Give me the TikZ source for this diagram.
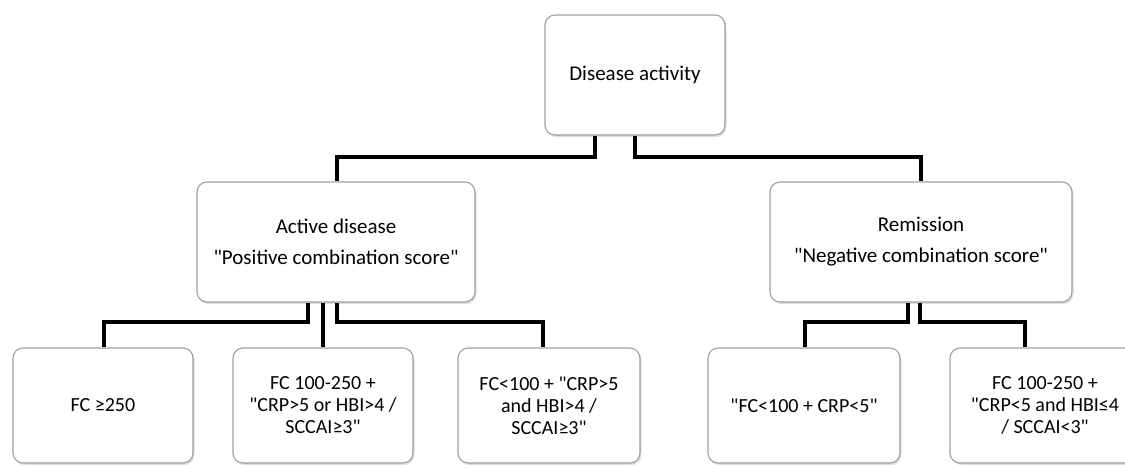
\documentclass[tikz,border=0pt]{standalone}
\usepackage{fontspec}
\setmainfont{Carlito}[Ligatures=TeXOff]
\usetikzlibrary{shadows}
\begin{document}
\begin{tikzpicture}[x=1pt,y=-1pt,
  box/.style={draw=gray!75, line width=1.1pt, rounded corners=10pt, fill=white,
    drop shadow={shadow xshift=1.5pt, shadow yshift=-2pt, opacity=0.25, fill=gray},
    align=center, inner sep=2pt, font=\fontsize{20}{22}\selectfont},
  midbox/.style={box, font=\fontsize{21}{31}\selectfont},
  conn/.style={line width=4pt, line cap=butt, line join=miter}]
\useasboundingbox (0,0) rectangle (1125,467);
\clip (0,0) rectangle (1125,467);
\node[midbox, minimum width=180pt, minimum height=120pt] (top) at (635,75) {Disease activity};
\node[midbox, minimum width=278pt, minimum height=120pt] (act) at (336,242) {Active disease\\"Positive combination score"};
\node[midbox, minimum width=302pt, minimum height=120pt] (rem) at (921,242) {Remission\\"Negative combination score"};
\node[box, minimum width=180pt, minimum height=115pt] (b1) at (103,405.5) {FC ≥250};
\node[box, minimum width=180pt, minimum height=115pt] (b2) at (323,405.5) {FC 100-250 +\\"CRP>5 or HBI>4 /\\SCCAI≥3"};
\node[box, minimum width=182pt, minimum height=115pt] (b3) at (549,405.5) {FC<100 + "CRP>5\\and HBI>4 /\\SCCAI≥3"};
\node[box, minimum width=192pt, minimum height=115pt] (b4) at (804,405.5) {"FC<100 + CRP<5"};
\node[box, minimum width=190pt, minimum height=115pt] (b5) at (1045,405.5) {FC 100-250 +\\"CRP<5 and HBI≤4\\/ SCCAI<3"};
% connectors
\draw[conn] ([xshift=-40pt]top.south) |- ([xshift=1pt,yshift=24pt]act.north) -- ([xshift=1pt]act.north);
\draw[conn] ([xshift=0pt]top.south) |- ([yshift=24pt]rem.north) -- (rem.north);
\draw[conn] ([xshift=-28pt]act.south) |- ([xshift=1pt,yshift=25pt]b1.north) -- ([xshift=1pt]b1.north);
\draw[conn] ([xshift=-13pt]act.south) -- (b2.north);
\draw[conn] ([xshift=1pt]act.south) |- ([xshift=-6pt,yshift=25pt]b3.north) -- ([xshift=-6pt]b3.north);
\draw[conn] ([xshift=-13pt]rem.south) |- ([xshift=1pt,yshift=25pt]b4.north) -- ([xshift=1pt]b4.north);
\draw[conn] ([xshift=-1pt]rem.south) |- ([xshift=-20pt,yshift=25pt]b5.north) -- ([xshift=-20pt]b5.north);
\end{tikzpicture}
\end{document}
